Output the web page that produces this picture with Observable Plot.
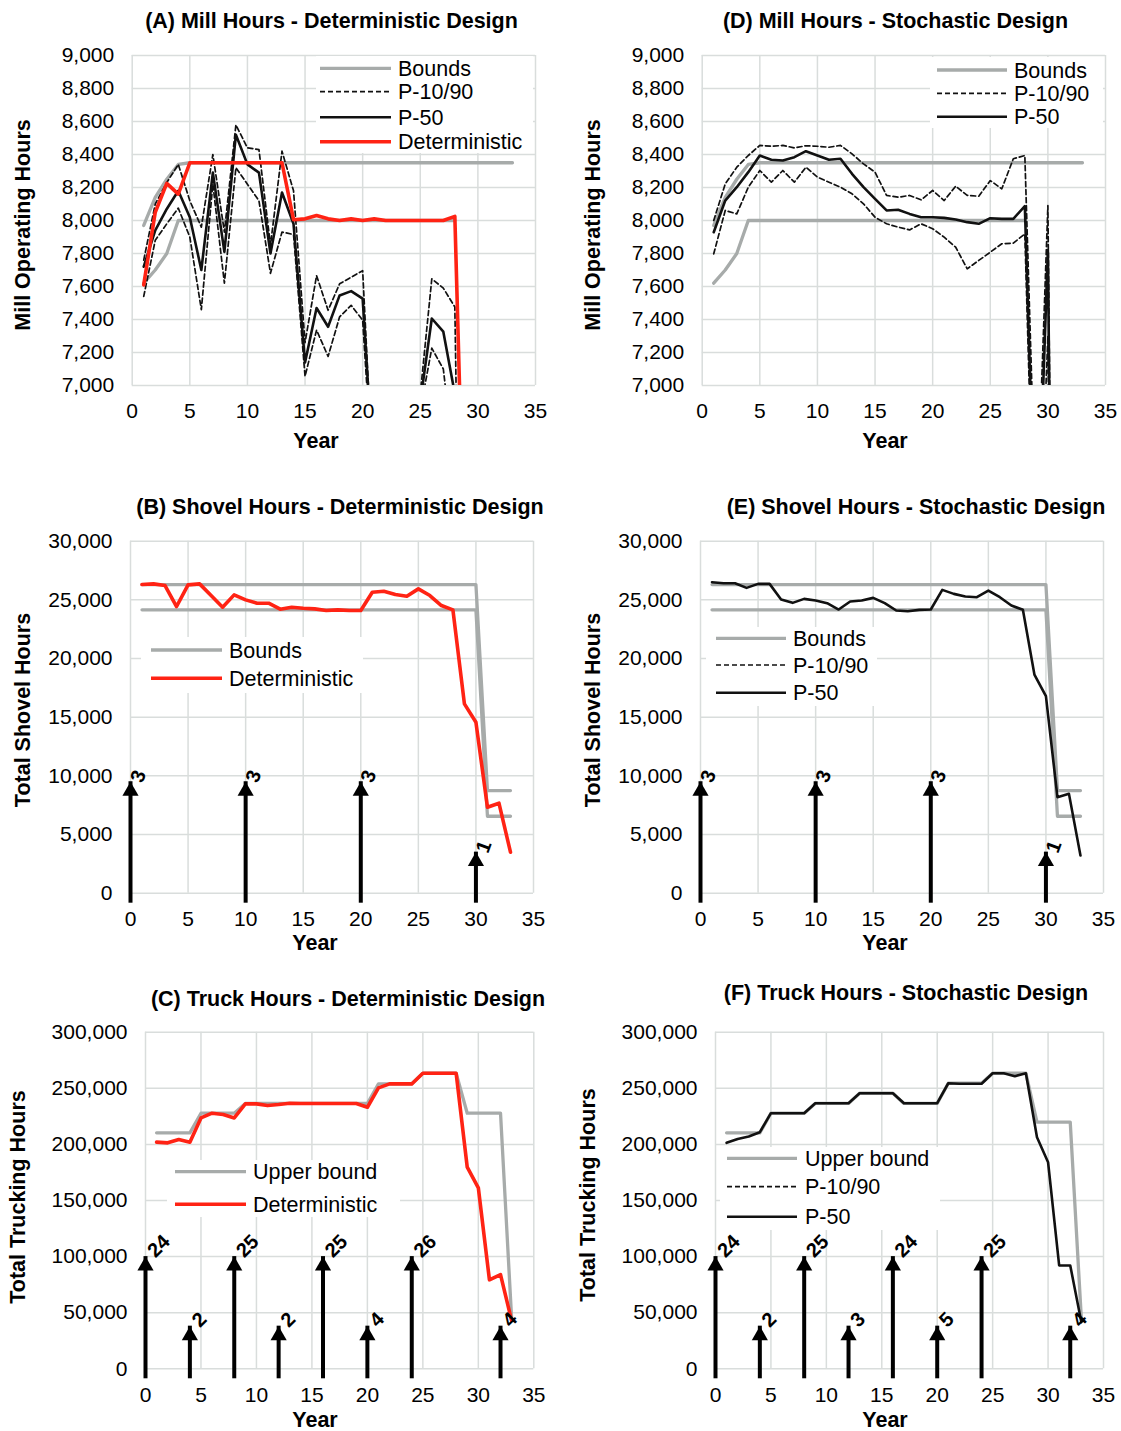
<!DOCTYPE html>
<html><head><meta charset="utf-8">
<script src="https://cdn.jsdelivr.net/npm/d3@7"></script>
<script src="https://cdn.jsdelivr.net/npm/@observablehq/plot@0.6"></script>
<style>
html,body{margin:0;padding:0;background:#fff;}
#root{position:relative;width:1121px;height:1431px;overflow:hidden;background:#fff;}
#root > svg{position:absolute;margin:0;}
</style></head><body><div id="root"></div>
<script>
// ---------------- DATA ----------------
const xTicks = [0, 5, 10, 15, 20, 25, 30, 35];
const years = [1,2,3,4,5,6,7,8,9,10,11,12,13,14,15,16,17,18,19,20,21,22,23,24,25,26,27,28,29,30,31,32,33];

// Mill hours (A, D)
const millTicks = [7000,7200,7400,7600,7800,8000,8200,8400,8600,8800,9000];
const millUpperBound = [7970,8140,8250,8340,8350,8350,8350,8350,8350,8350,8350,8350,8350,8350,8350,8350,8350,8350,8350,8350,8350,8350,8350,8350,8350,8350,8350,8350,8350,8350,8350,8350,8350];
const millLowerBound = [7620,7700,7800,8000,8000,8000,8000,8000,8000,8000,8000,8000,8000,8000,8000,8000,8000,8000,8000,8000,8000,8000,8000,8000,8000,8000,8000,8000];
const millDetA = [7610,8050,8225,8160,8350,8350,8350,8350,8350,8350,8350,8350,8350,8005,8010,8030,8010,8000,8010,8000,8010,8000,8000,8000,8000,8000,8000,8025,5500];
const millP50A = [7720,7940,8070,8180,8020,7700,8290,7810,8520,8340,8290,7800,8170,7980,7140,7470,7356,7546,7572,7526,6400,6000,6000,6000,6900,7406,7326,6950,3000];
const millP10A = [7540,7880,7980,8075,7900,7460,8220,7620,8320,8220,8120,7680,7930,7915,7056,7336,7176,7416,7486,7396,6300,6000,6000,6000,6850,7226,7100,6500,3000];
const millP90A = [7760,8100,8230,8340,8120,7960,8400,7930,8580,8440,8430,7850,8420,8180,7260,7666,7456,7616,7656,7696,6300,6000,6000,6000,6950,7646,7590,7476,3000];
const millP50D = [7929,8121,8202,8293,8394,8368,8364,8384,8420,8394,8368,8374,8283,8202,8131,8061,8065,8040,8020,8020,8016,8006,7990,7980,8014,8010,8010,8087,5800,7820,1000];
const millP90D = [8000,8222,8323,8394,8455,8450,8455,8440,8453,8450,8444,8455,8404,8343,8293,8152,8141,8152,8125,8182,8121,8208,8152,8147,8242,8192,8374,8394,6100,8090,1000];
const millP10D = [7798,8061,8040,8202,8303,8232,8303,8232,8323,8263,8232,8202,8162,8101,8020,7980,7960,7943,7980,7950,7899,7838,7707,7758,7808,7859,7863,7919,5500,7300,1000];

// Shovel hours (B, E)
const shovelTicks = [0,5000,10000,15000,20000,25000,30000];
const shovelUpperBound = [26300,26300,26300,26300,26300,26300,26300,26300,26300,26300,26300,26300,26300,26300,26300,26300,26300,26300,26300,26300,26300,26300,26300,26300,26300,26300,26300,26300,26300,26300,8750,8750,8750];
const shovelLowerBound = [24150,24150,24150,24150,24150,24150,24150,24150,24150,24150,24150,24150,24150,24150,24150,24150,24150,24150,24150,24150,24150,24150,24150,24150,24150,24150,24150,24150,24150,24150,6560,6560,6560];
const shovelDetB = [26307,26364,26222,24433,26279,26364,25370,24376,25427,25000,24717,24717,24205,24376,24290,24234,24092,24150,24092,24092,25654,25740,25456,25313,25938,25370,24518,24150,16137,14574,7330,7670,3494];
const shovelP50E = [26507,26421,26421,26023,26364,26364,25029,24745,25086,24944,24717,24177,24859,24944,25171,24717,24092,24035,24149,24177,25853,25512,25285,25228,25796,25228,24518,24150,18637,16790,8182,8466,3210];
const shovelArrowYears = [0, 10, 20, 30];
const shovelArrowTips = [9500, 9500, 9500, 3500];
const shovelArrowLabels = ["3", "3", "3", "1"];

// Truck hours (C, F)
const truckTicks = [0,50000,100000,150000,200000,250000,300000];
const truckUpperBoundC = [210300,210300,210300,210300,227800,227800,227800,227800,236500,236500,236500,236500,236500,236500,236500,236500,236500,236500,236500,236500,254000,254000,254000,254000,263400,263400,263400,263400,227800,227800,227800,227800,45000];
const truckDetC = [202000,201400,204300,202000,223600,227800,226600,223600,236100,236100,234600,235500,236700,236500,236500,236500,236500,236500,236500,233100,250400,253900,253900,253900,263400,263400,263400,263400,179700,161300,79300,84000,43000];
const truckUpperBoundF = [210300,210300,210300,210300,227800,227800,227800,227800,236500,236500,236500,236500,245600,245600,245600,245600,236500,236500,236500,236500,254500,254500,254500,254500,263400,263400,263400,263400,219800,219800,219800,219800,45000];
const truckP50F = [201400,204900,207000,210900,227800,227800,227800,227800,236700,236700,236700,236700,245600,245600,245600,245600,236700,236700,236700,236700,254500,254000,254000,254000,263400,263400,260800,263400,206400,184100,92100,92100,41600];
const truckArrowYears = [0, 4, 8, 12, 16, 20, 24, 32];
const truckArrowTips = [100000, 38000, 100000, 38000, 100000, 38000, 100000, 38000];
const truckArrowLabelsC = ["24", "2", "25", "2", "25", "4", "26", "4"];
const truckArrowLabelsF = ["24", "2", "25", "3", "24", "5", "25", "4"];

// ---------------- STYLE ----------------
const FONT = "'Liberation Sans', Arial, Helvetica, sans-serif";
const GRID = "#d9dddc";
const GRAY = "#a7abaa";
const RED = "#ff2314";
const root = document.getElementById("root");

const series = (ys) => ys.map((v, i) => ({x: years[i], y: v}));
const arrows = (xs, tips, labels) => xs.map((x, i) => ({x, base: 0, tip: tips[i], label: labels[i]}));

const grayLine = (ys) => Plot.line(series(ys), {x: "x", y: "y", stroke: GRAY, strokeWidth: 3.3, clip: true});
const redLine = (ys) => Plot.line(series(ys), {x: "x", y: "y", stroke: RED, strokeWidth: 3.6, clip: true});
const blackLine = (ys) => Plot.line(series(ys), {x: "x", y: "y", stroke: "#111", strokeWidth: 2.6, clip: true});
const dashLine = (ys) => Plot.line(series(ys), {x: "x", y: "y", stroke: "#111", strokeWidth: 1.7, strokeDasharray: "5,3", clip: true});
const arrowMarks = (rows, rot, dx, dy) => [
  Plot.ruleX(rows, {x: "x", y1: "base", y2: "tip", stroke: "#000", strokeWidth: 4, insetTop: 10}),
  Plot.dot(rows, {x: "x", y: "tip", symbol: "triangle", r: 6, fill: "#000", stroke: "none", dy: 9.3}),
  Plot.text(rows, {x: "x", y: "tip", text: "label", rotate: rot, textAnchor: "start", lineAnchor: "bottom", dx, dy, fontWeight: "bold", fontSize: 20, fill: "#000"})
];

function panel({left, top, width, height, plot, yDomain, yTicks, marks}) {
  const [pl, pr, pt, pb] = plot;
  const p = Plot.plot({
    width, height,
    marginLeft: pl - left, marginRight: left + width - pr,
    marginTop: pt - top, marginBottom: top + height - pb,
    style: {fontFamily: FONT, fontSize: "21px", color: "#000", background: "transparent", overflow: "visible"},
    x: {domain: [0, 35]},
    y: {domain: yDomain},
    marks: [
      Plot.gridX(xTicks, {stroke: GRID, strokeOpacity: 1, strokeWidth: 1.5}),
      Plot.gridY(yTicks, {stroke: GRID, strokeOpacity: 1, strokeWidth: 1.5}),
      Plot.axisX(xTicks, {tickSize: 0, tickPadding: 18, label: null, fontSize: 21}),
      Plot.axisY(yTicks, {tickSize: 0, tickPadding: 18, label: null, tickFormat: d3.format(","), fontSize: 21}),
      ...marks
    ]
  });
  p.style.position = "absolute";
  p.style.left = left + "px";
  p.style.top = top + "px";
  root.appendChild(p);
}

// (A)
panel({left: 0, top: 40, width: 560, height: 400, plot: [131.7, 535, 55, 385], yDomain: [7000, 9000], yTicks: millTicks,
  marks: [grayLine(millUpperBound), grayLine(millLowerBound), dashLine(millP10A), dashLine(millP90A), blackLine(millP50A), redLine(millDetA)]});
// (D)
panel({left: 560, top: 40, width: 561, height: 400, plot: [701.7, 1105, 55, 385], yDomain: [7000, 9000], yTicks: millTicks,
  marks: [grayLine(millUpperBound), grayLine(millLowerBound), dashLine(millP10D), dashLine(millP90D), blackLine(millP50D)]});
// (B)
panel({left: 0, top: 525, width: 560, height: 410, plot: [130, 533, 540.7, 892.7], yDomain: [0, 30000], yTicks: shovelTicks,
  marks: [grayLine(shovelUpperBound), grayLine(shovelLowerBound), redLine(shovelDetB), ...arrowMarks(arrows(shovelArrowYears, shovelArrowTips, shovelArrowLabels), -70, 12, 2)]});
// (E)
panel({left: 560, top: 525, width: 561, height: 410, plot: [700, 1103, 540.7, 892.7], yDomain: [0, 30000], yTicks: shovelTicks,
  marks: [grayLine(shovelUpperBound), grayLine(shovelLowerBound), blackLine(shovelP50E), ...arrowMarks(arrows(shovelArrowYears, shovelArrowTips, shovelArrowLabels), -70, 12, 2)]});
// (C)
panel({left: 0, top: 1015, width: 560, height: 400, plot: [145, 533.3, 1031.7, 1368.3], yDomain: [0, 300000], yTicks: truckTicks,
  marks: [grayLine(truckUpperBoundC), redLine(truckDetC), ...arrowMarks(arrows(truckArrowYears, truckArrowTips, truckArrowLabelsC), -45, 10, 2)]});
// (F)
panel({left: 560, top: 1015, width: 561, height: 400, plot: [715, 1103, 1031.7, 1368.3], yDomain: [0, 300000], yTicks: truckTicks,
  marks: [grayLine(truckUpperBoundF), blackLine(truckP50F), ...arrowMarks(arrows(truckArrowYears, truckArrowTips, truckArrowLabelsF), -45, 10, 2)]});

// ---------------- TEXT & LEGENDS OVERLAY ----------------
const ov = d3.select(root).append("svg").attr("width", 1121).attr("height", 1431)
  .style("position", "absolute").style("left", "0px").style("top", "0px")
  .style("font-family", FONT).style("pointer-events", "none");

const titles = [
  ["(A) Mill Hours - Deterministic Design", 331.5, 27.5],
  ["(D) Mill Hours - Stochastic Design", 895.5, 27.5],
  ["(B) Shovel Hours - Deterministic Design", 340, 513.5],
  ["(E) Shovel Hours - Stochastic Design", 916, 513.5],
  ["(C) Truck Hours - Deterministic Design", 348, 1005.5],
  ["(F) Truck Hours - Stochastic Design", 906, 999.5]
];
for (const [t, x, y] of titles)
  ov.append("text").attr("x", x).attr("y", y).attr("text-anchor", "middle").attr("font-weight", "bold").attr("font-size", 21.5).text(t);

const yLabels = [
  ["Mill Operating Hours", 30, 225],
  ["Mill Operating Hours", 600, 225],
  ["Total Shovel Hours", 30, 710],
  ["Total Shovel Hours", 600, 710],
  ["Total Trucking Hours", 25, 1197],
  ["Total Trucking Hours", 595, 1195]
];
for (const [t, x, y] of yLabels)
  ov.append("text").attr("transform", `translate(${x},${y}) rotate(-90)`).attr("text-anchor", "middle").attr("font-weight", "bold").attr("font-size", 21.5).text(t);

const xLabels = [[316, 448], [885, 448], [315, 950], [885, 950], [315, 1427], [885, 1427]];
for (const [x, y] of xLabels)
  ov.append("text").attr("x", x).attr("y", y).attr("text-anchor", "middle").attr("font-weight", "bold").attr("font-size", 21.5).text("Year");

const ST = {
  bounds: {stroke: GRAY, width: 3.3, dash: null},
  dash: {stroke: "#111", width: 1.7, dash: "5,3"},
  p50: {stroke: "#111", width: 2.6, dash: null},
  det: {stroke: RED, width: 3.6, dash: null}
};
function legend(box, x0, x1, xt, rows) {
  ov.append("rect").attr("x", box[0]).attr("y", box[1]).attr("width", box[2] - box[0]).attr("height", box[3] - box[1]).attr("fill", "#fff");
  for (const [y, label, s] of rows) {
    const l = ov.append("line").attr("x1", x0).attr("x2", x1).attr("y1", y).attr("y2", y)
      .attr("stroke", s.stroke).attr("stroke-width", s.width);
    if (s.dash) l.attr("stroke-dasharray", s.dash);
    ov.append("text").attr("x", xt).attr("y", y).attr("dy", "0.35em").attr("font-size", 21.5).text(label);
  }
}
legend([316, 56, 533, 153], 320, 391, 398, [[68.3, "Bounds", ST.bounds], [91.7, "P-10/90", ST.dash], [117.3, "P-50", ST.p50], [141.7, "Deterministic", ST.det]]);
legend([930, 57, 1103, 128], 937, 1007, 1014, [[70, "Bounds", ST.bounds], [93.3, "P-10/90", ST.dash], [116.7, "P-50", ST.p50]]);
legend([141, 637, 363, 693], 151, 222, 229, [[650, "Bounds", ST.bounds], [678.3, "Deterministic", ST.det]]);
legend([706, 627, 877, 706], 716, 786, 793, [[638.3, "Bounds", ST.bounds], [665, "P-10/90", ST.dash], [692.7, "P-50", ST.p50]]);
legend([167, 1160, 400, 1217], 175, 246, 253, [[1171.7, "Upper bound", ST.bounds], [1204.3, "Deterministic", ST.det]]);
legend([720, 1147, 940, 1230], 727, 797, 805, [[1158.3, "Upper bound", ST.bounds], [1186.7, "P-10/90", ST.dash], [1216.7, "P-50", ST.p50]]);
</script></body></html>
